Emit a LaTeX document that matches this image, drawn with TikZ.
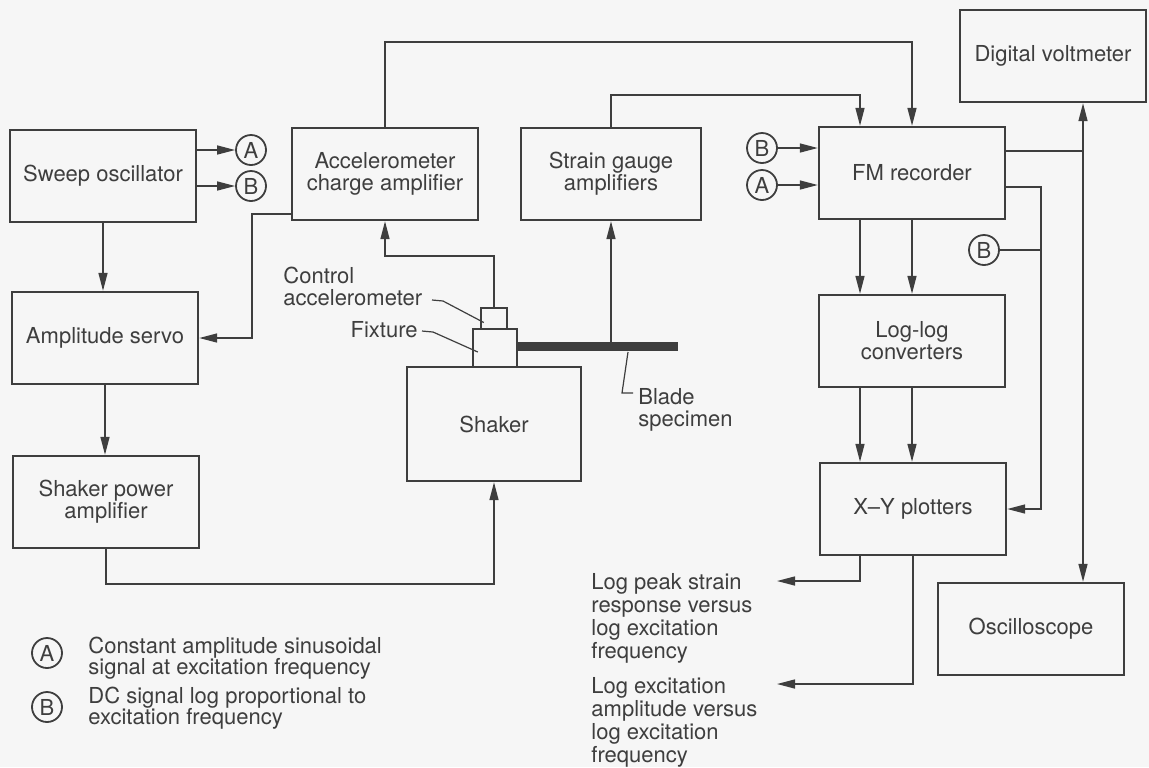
\documentclass[tikz,border=0pt]{standalone}
\usepackage{fontspec}
\setmainfont{TeX Gyre Heros}
\usetikzlibrary{arrows.meta,positioning}
\definecolor{inkgray}{HTML}{3E3E3E}
\definecolor{papergray}{HTML}{F6F6F6}

\begin{document}
\begin{tikzpicture}[
x=0.5pt, y=-0.5pt,
font=\fontsize{11}{11}\selectfont,
blocknode/.style={rectangle, draw=inkgray, text=inkgray, line width=1.2pt, minimum width=93pt, minimum height=46pt, align=center, inner sep=2pt},
signode/.style={circle, draw=inkgray, text=inkgray, line width=0.9pt, minimum size=15pt, inner sep=0pt},
notenode/.style={text=inkgray, align=left, inner sep=0pt, anchor=north west},
wire/.style={draw=inkgray, line width=0.75pt},
arr/.style={wire, -{Triangle[length=9pt,width=4.5pt]}},
]
\fill[papergray] (0,0) rectangle (1149,767);
\useasboundingbox (0,0) rectangle (1149,767);

%Blocks
\node[blocknode] (sweep) at (103,176) {Sweep oscillator};
\node[blocknode] (charge) at (385,174) {Accelerometer\\charge amplifier};
\node[blocknode, minimum width=90pt] (strain) at (611,174) {Strain gauge\\amplifiers};
\node[blocknode] (fm) at (912,173) {FM recorder};
\node[blocknode] (dvm) at (1053,56) {Digital voltmeter};
\node[blocknode] (servo) at (105,338) {Amplitude servo};
\node[blocknode] (spa) at (106,502) {Shaker power\\amplifier};
\node[blocknode, minimum width=87pt, minimum height=57pt] (shaker) at (494,424) {Shaker};
\node[blocknode] (loglog) at (912,341) {Log-log\\converters};
\node[blocknode] (xy) at (913,509) {X--Y plotters};
\node[blocknode] (scope) at (1031,629) {Oscilloscope};

%Test rig
\node[draw=inkgray, line width=1.2pt, minimum width=22pt, minimum height=19pt, inner sep=0pt] (fixture) at (495,348) {};
\node[draw=inkgray, line width=1.2pt, minimum width=13pt, minimum height=10.5pt, inner sep=0pt] (accel) at (494,318.5) {};
\node[fill=inkgray, minimum width=80.5pt, minimum height=4.5pt, inner sep=0pt, anchor=west] (blade) at (517,346.5) {};

%Signal circles
\node[signode] (sweepA) at (251,150) {A};
\node[signode] (sweepB) at (251,186) {B};
\node[signode] (fmB) at (762,148) {B};
\node[signode] (fmA) at (762,185) {A};
\node[signode] (plotB) at (984,250) {B};
\node[signode] (keyA) at (47,653) {A};
\node[signode] (keyB) at (47,707) {B};

%Labels
\node[notenode] (ctrllbl) at (283,267) {Control\\accelerometer};
\node[text=inkgray, inner sep=0pt, anchor=base east] (fixlbl) at (418,337) {Fixture};
\node[notenode] (bladelbl) at (638,388) {Blade\\specimen};
\node[notenode, font=\fontsize{11}{11.5}\selectfont] (peaktxt) at (591,573) {Log peak strain\\response versus\\log excitation\\frequency};
\node[notenode, font=\fontsize{11}{11.5}\selectfont] (amptxt) at (591,677) {Log excitation\\amplitude versus\\log excitation\\frequency};
\node[notenode, font=\fontsize{11}{10.5}\selectfont] (keyAtxt) at (88,637) {Constant amplitude sinusoidal\\signal at excitation frequency};
\node[notenode, font=\fontsize{11}{10.5}\selectfont] (keyBtxt) at (88,687) {DC signal log proportional to\\excitation frequency};

%Bend points
\coordinate (servoback) at (252,214);
\coordinate (accelup) at (0,256);
\coordinate (spabend) at (0,584);
\coordinate (topwire) at (0,42);
\coordinate (midwire) at (0,95);
\coordinate (fmleft) at (860,0);
\coordinate (peakend) at (777,581);
\coordinate (ampend) at (777,684);
\coordinate (dvmbus) at (1083,151);
\coordinate (plotbus) at (1041,187);
\coordinate (bladetip) at (628,352);

%Leaders
\draw[wire, line width=0.6pt] (432,300) -- (443,301) -- ([shift={(4,4)}]accel.west);
\draw[wire, line width=0.6pt] ([xshift=2pt]fixlbl.east |- 0,331) -- ++(11,1) -- ([shift={(6,4)}]fixture.west);
\draw[wire, line width=0.6pt] (bladetip) -- ++(-6,41) -- ++(11,0);

%Connectors
\draw[arr] (sweep.east |- sweepA) -- (sweepA);
\draw[arr] (sweep.east |- sweepB) -- (sweepB);
\draw[arr] (sweep.south) -- (sweep.south |- servo.north);
\draw[arr] (servo.south) -- (servo.south |- spa.north);
\draw[arr] (spa.south) -- (spa.south |- spabend) -| (shaker.south);
\draw[arr] (charge.west |- servoback) -- (servoback) |- (servo.east);
\draw[arr] (accel.north) -- (accel.north |- accelup) -| (charge.south);
\draw[arr] (blade.north -| strain.south) -- (strain.south);
\draw[arr] (charge.north) -- (charge.north |- topwire) -| (fm.north);
\draw[arr] (strain.north) -- (strain.north |- midwire) -| (fmleft |- fm.north);
\draw[arr] (fmB) -- (fmB -| fm.west);
\draw[arr] (fmA) -- (fmA -| fm.west);
\draw[arr] (fmleft |- fm.south) -- (fmleft |- loglog.north);
\draw[arr] (fm.south) -- (fm.south |- loglog.north);
\draw[arr] (fmleft |- loglog.south) -- (fmleft |- xy.north);
\draw[arr] (loglog.south) -- (loglog.south |- xy.north);
\draw[arr] (fmleft |- xy.south) |- (peakend);
\draw[arr] (xy.south) |- (ampend);
\draw[wire] (fm.east |- dvmbus) -- (dvmbus);
\draw[arr] (dvmbus) -- (dvmbus |- dvm.south);
\draw[arr] (dvmbus) -- (dvmbus |- scope.north);
\draw[arr] (fm.east |- plotbus) -- (plotbus) |- (xy.east);
\draw[wire] (plotB) -- (plotB -| plotbus);
\end{tikzpicture}
\end{document}
